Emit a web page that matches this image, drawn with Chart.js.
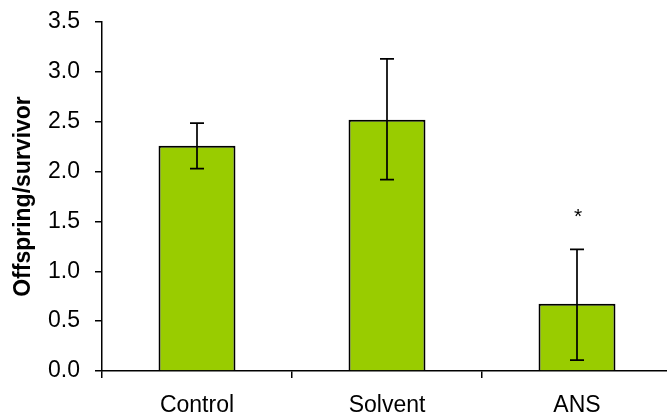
<!DOCTYPE html>
<html>
<head>
<meta charset="utf-8">
<script src="https://cdn.jsdelivr.net/npm/chart.js@4/dist/chart.umd.min.js"></script>
<style>
    html, body { margin: 0; padding: 0; background: #fff; overflow: hidden; }
    .chart-box { position: relative; width: 672px; height: 418px; }
</style>
</head>
<body>
<div class="chart-box"><canvas id="offspring-chart"></canvas></div>
<script>
const categories = ['Control', 'Solvent', 'ANS']
const means = [2.26, 2.52, 0.675]
const errLower = [2.03, 1.92, 0.11]
const errUpper = [2.485, 3.13, 1.22]
const marks = ['', '', '*']
const markValue = 1.54
const yTicks = [0, 0.5, 1.0, 1.5, 2.0, 2.5, 3.0, 3.5]

!(() => {
    const fontFamily = '"Liberation Sans", Arial, sans-serif'

    // error bars + significance mark, placed through the scales
    const errorBars = {
        id: 'errorBars',
        afterDatasetsDraw(chart) {
            const ctx = chart.ctx
            const y = chart.scales.y
            const meta = chart.getDatasetMeta(0)
            ctx.save()
            ctx.strokeStyle = '#000'
            ctx.lineWidth = 1.7
            meta.data.forEach((bar, i) => {
                const top = y.getPixelForValue(errUpper[i])
                const bottom = y.getPixelForValue(errLower[i])
                const cap = 7
                ctx.beginPath()
                ctx.moveTo(bar.x, top)
                ctx.lineTo(bar.x, bottom)
                ctx.moveTo(bar.x - cap, top)
                ctx.lineTo(bar.x + cap, top)
                ctx.moveTo(bar.x - cap, bottom)
                ctx.lineTo(bar.x + cap, bottom)
                ctx.stroke()
                if (marks[i]) {
                    ctx.fillStyle = '#000'
                    ctx.font = '21px ' + fontFamily
                    ctx.textAlign = 'center'
                    ctx.textBaseline = 'middle'
                    ctx.fillText(marks[i], bar.x + 1, y.getPixelForValue(markValue))
                }
            })
            ctx.restore()
        },
    }

    const data = {
        labels: categories,
        datasets: [
            {
                data: means,
                backgroundColor: '#99CC00',
                borderColor: '#000',
                borderWidth: 2,
                categoryPercentage: 1,
                barPercentage: 0.405,
            },
        ],
    }

    const config = {
        type: 'bar',
        data: data,
        options: {
            responsive: true,
            maintainAspectRatio: false,
            animation: false,
            layout: { padding: { top: 22, right: 0, left: 0, bottom: 0 } },
            plugins: {
                legend: { display: false },
                tooltip: { enabled: false },
            },
            scales: {
                x: {
                    grid: {
                        offset: true,
                        drawOnChartArea: false,
                        drawTicks: true,
                        tickLength: 7,
                        color: '#000',
                        lineWidth: 1.5,
                    },
                    border: { display: true, color: '#000', width: 1.5 },
                    ticks: {
                        color: '#000',
                        padding: 14,
                        font: { family: fontFamily, size: 23 },
                        maxRotation: 0,
                    },
                    afterFit: scale => {
                        scale.height = 47
                        scale.paddingLeft = 0
                        scale.paddingRight = 0
                    },
                },
                y: {
                    min: 0,
                    max: 3.5,
                    afterBuildTicks: scale => {
                        scale.ticks = yTicks.map(v => ({ value: v }))
                    },
                    grid: {
                        drawOnChartArea: false,
                        drawTicks: true,
                        tickLength: 7,
                        color: '#000',
                        lineWidth: 1.5,
                    },
                    border: { display: true, color: '#000', width: 1.5 },
                    ticks: {
                        color: '#000',
                        padding: 15,
                        font: { family: fontFamily, size: 23 },
                        callback: v => Number(v).toFixed(1),
                    },
                    title: {
                        display: true,
                        text: 'Offspring/survivor',
                        color: '#000',
                        font: { family: fontFamily, size: 23, weight: 'bold' },
                        padding: { top: 10, bottom: 0 },
                    },
                    afterFit: scale => {
                        scale.width = 102
                        scale.paddingTop = 0
                        scale.paddingBottom = 0
                    },
                },
            },
        },
        plugins: [errorBars],
    }

    new Chart(document.getElementById('offspring-chart'), config)
})()
</script>
</body>
</html>
